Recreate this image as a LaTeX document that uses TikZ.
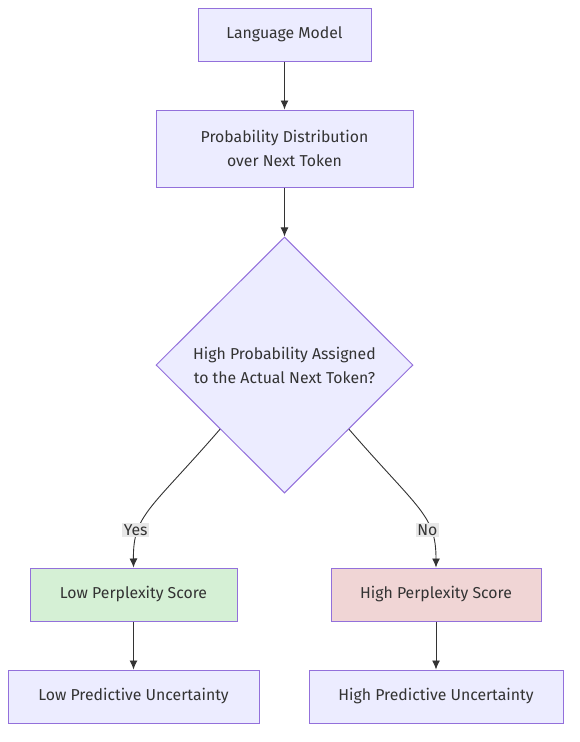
\documentclass[tikz,border=0pt]{standalone}
\usepackage{fontspec}
\setmainfont{Fira Sans}
\usetikzlibrary{shapes, arrows, arrows.meta, positioning}
\usetikzlibrary{shapes.geometric, arrows, positioning}
\definecolor{boxfill}{HTML}{ECECFF}
\definecolor{boxline}{HTML}{9370DB}
\definecolor{lowfill}{HTML}{D5F0D5}
\definecolor{highfill}{HTML}{F0D5D5}
\definecolor{ink}{HTML}{333333}
\definecolor{tagfill}{HTML}{E8E8E8}

\begin{document}
\begin{tikzpicture}[x=1pt, y=-1pt, font=\fontsize{15.8}{24}\selectfont]
            \tikzstyle{block}=[draw=boxline, fill=boxfill, line width=1pt, text=ink, align=center, inner sep=0pt]
            \tikzstyle{decision}=[diamond, draw=boxline, fill=boxfill, line width=1pt, text=ink, align=center, inner sep=0pt, minimum width=257pt, minimum height=256pt]
            \tikzstyle{flow}=[draw=ink, line width=0.9pt, -{Latex[length=9pt, width=8pt]}]
            \tikzstyle{tag}=[fill=tagfill, text=ink, inner sep=1.5pt]
            \useasboundingbox (0,0) rectangle (579,742);
            \node[block, minimum width=173pt, minimum height=53pt] (model) at (284.5,34.5) {Language Model};
            \node[block, minimum width=257pt, minimum height=77pt] (dist) at (284.5,148.5) {Probability Distribution\\ over Next Token};
            \node[decision] (check) at (284.5,365) {High Probability Assigned\\to the Actual Next Token?};
            \node[block, fill=lowfill, minimum width=207pt, minimum height=53pt] (lowscore) at (133.5,594.5) {Low Perplexity Score};
            \node[block, fill=highfill, minimum width=210pt, minimum height=53pt] (highscore) at (436,594.5) {High Perplexity Score};
            \node[block, minimum width=251pt, minimum height=53pt] (lowunc) at (133.5,696.5) {Low Predictive Uncertainty};
            \node[block, minimum width=254pt, minimum height=53pt] (highunc) at (436,696.5) {High Predictive Uncertainty};
            \draw[flow] (model) -- (dist);
            \draw[flow] (dist) -- (check);
            \draw[flow] (check.south west) .. controls (150,510) and (133,515) .. node[tag, pos=0.7, xshift=-3pt]{Yes} (lowscore.north);
            \draw[flow] (check.south east) .. controls (419,510) and (436,515) .. node[tag, pos=0.7, xshift=-3pt]{No} (highscore.north);
            \draw[flow] (lowscore) -- (lowunc);
            \draw[flow] (highscore) -- (highunc);
\end{tikzpicture}
\end{document}
